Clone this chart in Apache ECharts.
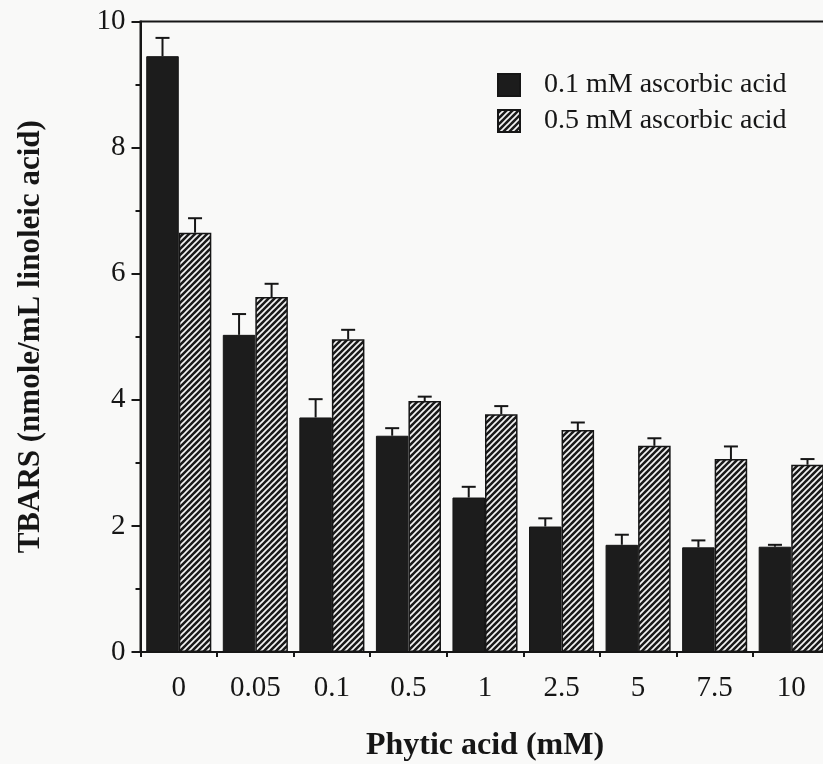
<!DOCTYPE html>
<html>
<head>
<meta charset="utf-8">
<script src="https://cdn.jsdelivr.net/npm/echarts@6/dist/echarts.min.js"></script>
<style>
  html, body { margin: 0; padding: 0; background: #f9f9f8; }
  #chart { width: 823px; height: 764px; }
</style>
</head>
<body>
<div id="chart"></div>
<script>
// Phytic acid concentrations (mM) on the category axis
const categories = ['0', '0.05', '0.1', '0.5', '1', '2.5', '5', '7.5', '10'];

// TBARS (nmole/mL linoleic acid), mean values
const lowAscorbic = [9.45, 5.03, 3.72, 3.43, 2.45, 1.99, 1.70, 1.66, 1.67];
const highAscorbic = [6.65, 5.63, 4.96, 3.98, 3.77, 3.52, 3.27, 3.06, 2.97];

// Upper error (SD) for each mean
const lowAscorbicErr = [0.29, 0.33, 0.29, 0.12, 0.17, 0.13, 0.16, 0.11, 0.03];
const highAscorbicErr = [0.23, 0.21, 0.15, 0.07, 0.13, 0.12, 0.12, 0.20, 0.09];

const seriesNames = ['0.1 mM ascorbic acid', '0.5 mM ascorbic acid'];
const yTicks = [0, 2, 4, 6, 8, 10];

const INK = '#161616';
const SERIF = '"Liberation Serif", "Times New Roman", Times, serif';

// Diagonal hatch tile for the second series
function hatchPattern() {
  const c = document.createElement('canvas');
  c.width = 6; c.height = 6;
  const ctx = c.getContext('2d');
  ctx.fillStyle = '#1a1a1a';
  ctx.fillRect(0, 0, 6, 6);
  ctx.strokeStyle = '#f4f4f4';
  ctx.lineWidth = 1.7;
  for (const k of [0, 6, 12]) {
    ctx.beginPath();
    ctx.moveTo(k + 1, -1);
    ctx.lineTo(k - 7, 7);
    ctx.stroke();
  }
  return { image: c, repeat: 'repeat' };
}

const BAR_CATEGORY_GAP = 0.15;

// Upward-only error bars, placed over the matching bar of each pair
function errorSeries(values, errs, side) {
  return {
    type: 'custom',
    z: 5,
    silent: true,
    data: values.map((v, i) => [i, v, errs[i]]),
    renderItem(params, api) {
      const idx = api.value(0);
      const v = api.value(1);
      const e = api.value(2);
      const base = api.coord([idx, v]);
      const top = api.coord([idx, v + e]);
      const catW = api.size([1, 0])[0];
      const barW = catW * (1 - BAR_CATEGORY_GAP) / 2;
      const x = base[0] + side * barW / 2;
      const cap = 14;
      const style = { stroke: INK, lineWidth: 2 };
      return {
        type: 'group',
        children: [
          { type: 'line', shape: { x1: x, y1: base[1], x2: x, y2: top[1] }, style },
          { type: 'line', shape: { x1: x - cap / 2, y1: top[1], x2: x + cap / 2, y2: top[1] }, style }
        ]
      };
    }
  };
}

const chart = echarts.init(document.getElementById('chart'), null, { renderer: 'canvas' });

chart.setOption({
  animation: false,
  backgroundColor: '#f9f9f8',
  textStyle: { fontFamily: SERIF, color: INK },
  grid: {
    left: 140.5, top: 21.5, width: 689, height: 630.5,
    show: true, borderColor: INK, borderWidth: 2, backgroundColor: 'transparent',
    containLabel: false,
    outerBoundsMode: 'none'
  },
  legend: {
    data: seriesNames,
    orient: 'vertical',
    left: 497,
    top: 71,
    padding: 0,
    itemWidth: 22,
    itemHeight: 22,
    itemGap: 8,
    icon: 'rect',
    textStyle: { fontFamily: SERIF, fontSize: 28, color: INK, padding: [0, 0, 0, 19] },
    selectedMode: false
  },
  xAxis: {
    type: 'category',
    data: categories,
    name: 'Phytic acid (mM)',
    nameLocation: 'middle',
    nameGap: 78,
    nameTextStyle: { fontFamily: SERIF, fontSize: 32, fontWeight: 'bold', color: INK },
    axisLine: { show: true, lineStyle: { color: INK, width: 2 } },
    axisTick: { show: true, inside: false, length: 5, lineStyle: { color: INK, width: 2 } },
    axisLabel: { fontFamily: SERIF, fontSize: 29, color: INK, margin: 22 },
    splitLine: { show: false }
  },
  yAxis: {
    type: 'value',
    min: 0,
    max: 10,
    interval: 2,
    name: 'TBARS (nmole/mL linoleic acid)',
    nameLocation: 'middle',
    nameRotate: 90,
    nameGap: 94,
    nameTextStyle: { fontFamily: SERIF, fontSize: 31, fontWeight: 'bold', color: INK },
    axisLine: { show: true, lineStyle: { color: INK, width: 2 } },
    axisTick: { show: true, length: 9, lineStyle: { color: INK, width: 2 } },
    minorTick: { show: true, splitNumber: 2, length: 5, lineStyle: { color: INK, width: 2 } },
    axisLabel: {
      fontFamily: SERIF, fontSize: 29, color: INK, margin: 15,
      formatter: v => (yTicks.includes(v) ? String(v) : '')
    },
    splitLine: { show: false }
  },
  series: [
    {
      name: seriesNames[0],
      type: 'bar',
      data: lowAscorbic,
      barGap: '0%',
      barCategoryGap: (BAR_CATEGORY_GAP * 100) + '%',
      itemStyle: { color: '#1c1c1c', borderColor: INK, borderWidth: 1 }
    },
    {
      name: seriesNames[1],
      type: 'bar',
      data: highAscorbic,
      barGap: '0%',
      barCategoryGap: (BAR_CATEGORY_GAP * 100) + '%',
      itemStyle: { color: hatchPattern(), borderColor: INK, borderWidth: 1.5 }
    },
    errorSeries(lowAscorbic, lowAscorbicErr, -1),
    errorSeries(highAscorbic, highAscorbicErr, 1)
  ]
});
</script>
</body>
</html>
